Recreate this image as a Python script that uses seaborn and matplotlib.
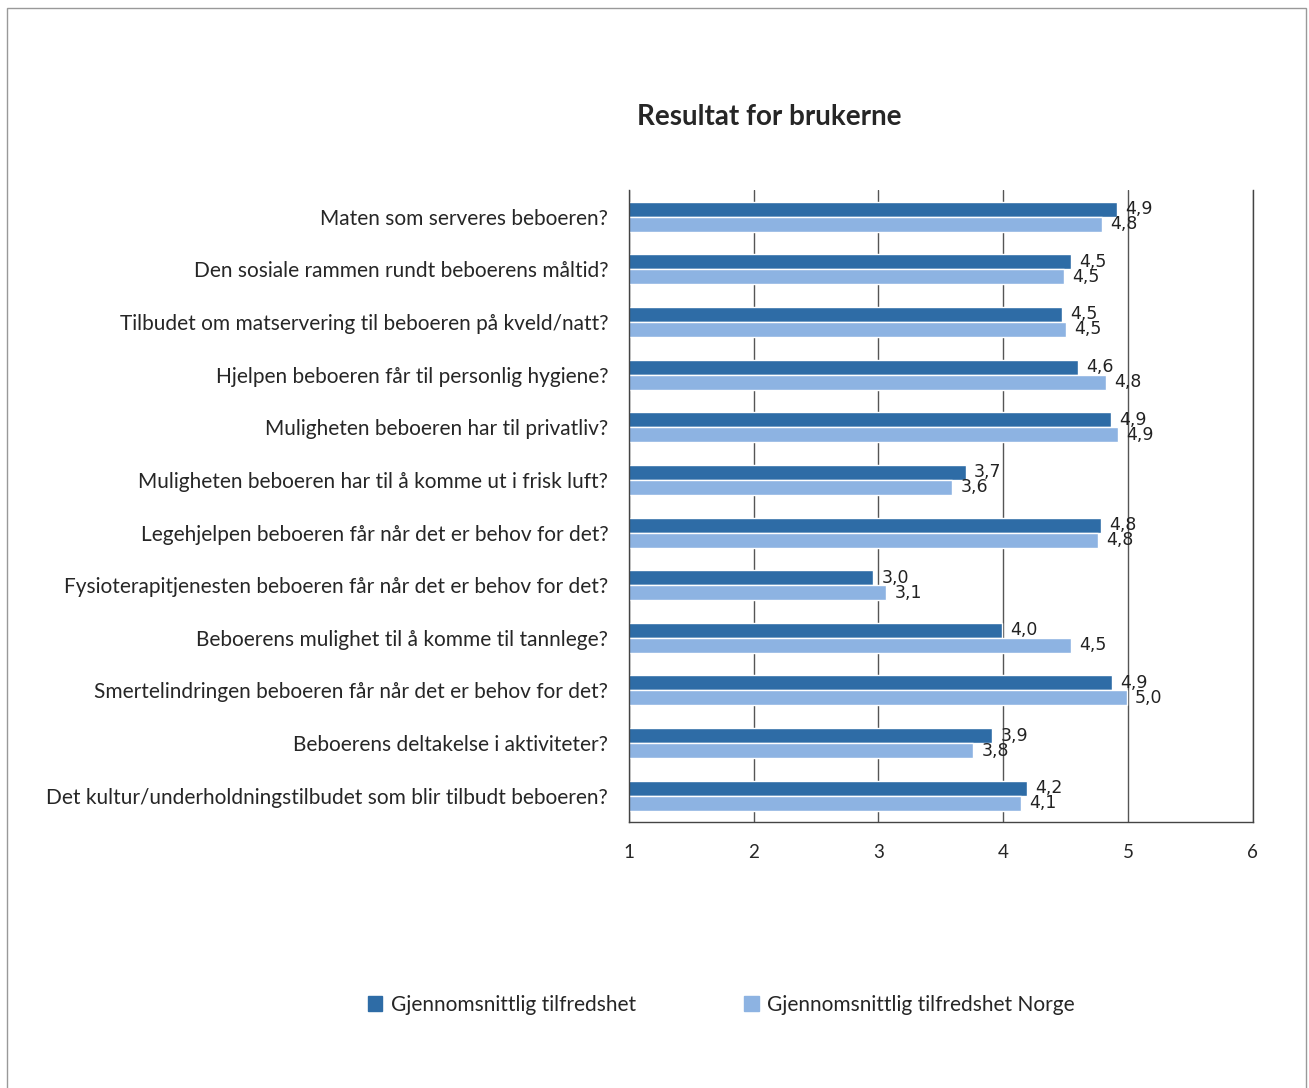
import pandas as pd
import numpy as np
import matplotlib.pyplot as plt
import seaborn as sns
from matplotlib.patches import Rectangle

# --- Data ---
questions = [
    "Maten som serveres beboeren?",
    "Den sosiale rammen rundt beboerens måltid?",
    "Tilbudet om matservering til beboeren på kveld/natt?",
    "Hjelpen beboeren får til personlig hygiene?",
    "Muligheten beboeren har til privatliv?",
    "Muligheten beboeren har til å komme ut i frisk luft?",
    "Legehjelpen beboeren får når det er behov for det?",
    "Fysioterapitjenesten beboeren får når det er behov for det?",
    "Beboerens mulighet til å komme til tannlege?",
    "Smertelindringen beboeren får når det er behov for det?",
    "Beboerens deltakelse i aktiviteter?",
    "Det kultur/underholdningstilbudet som blir tilbudt beboeren?",
]
series_names = ["Gjennomsnittlig tilfredshet", "Gjennomsnittlig tilfredshet Norge"]
local_values = [4.91, 4.54, 4.47, 4.60, 4.86, 3.70, 4.78, 2.96, 3.99, 4.87, 3.91, 4.19]
norway_values = [4.79, 4.49, 4.50, 4.82, 4.92, 3.59, 4.76, 3.06, 4.54, 4.99, 3.76, 4.14]
x_ticks = [1, 2, 3, 4, 5, 6]

colors = ["#2e6ca6", "#8db3e2"]

df = pd.DataFrame({
    "Spørsmål": questions * 2,
    "Verdi": local_values + norway_values,
    "Serie": [series_names[0]] * len(questions) + [series_names[1]] * len(questions),
})

sns.set_style("white")
plt.rcParams['font.family'] = ['Lato', 'DejaVu Sans']

fig = plt.figure(figsize=(13.09, 10.88), dpi=100)
ax = fig.add_axes([0.4805, 0.2445, 0.4765, 0.5805])

sns.barplot(data=df, x="Verdi", y="Spørsmål", hue="Serie", order=questions,
            hue_order=series_names, palette=colors, width=0.57, saturation=1,
            orient="h", ax=ax, legend=False)

ax.set_xlim(1, 6)
ax.set_xticks(x_ticks)
ax.set_xticklabels([str(t) for t in x_ticks], fontsize=13.5)
ax.set_xlabel("")
ax.set_ylabel("")
ax.tick_params(axis='x', length=0, pad=16)
ax.tick_params(axis='y', length=0, pad=15, labelsize=15)

ax.grid(axis='x', color='#555555', linewidth=1)
ax.set_axisbelow(True)
ax.spines['top'].set_visible(False)
for side in ['left', 'bottom', 'right']:
    ax.spines[side].set_color('#444444')
    ax.spines[side].set_linewidth(1)

# value labels
for cont in ax.containers:
    labels = [f"{b.get_width():.1f}".replace(".", ",") for b in cont]
    ax.bar_label(cont, labels=labels, padding=6, fontsize=12.5,
                 family='DejaVu Sans', color='#222222')

fig.text(0.5875, 0.8925, "Resultat for brukerne", ha='center', va='center',
         fontsize=20, fontweight='bold')

handles = [Rectangle((0, 0), 1, 1, color=c) for c in colors]
fig.legend(handles, series_names, loc='center', bbox_to_anchor=(0.551, 0.0763),
           ncol=2, frameon=False, fontsize=15, handlelength=0.7,
           handleheight=0.7, handletextpad=0.4, columnspacing=5.2)

fig.add_artist(Rectangle((0.005, -0.01), 0.9927, 1.0026, transform=fig.transFigure,
                         fill=False, edgecolor='#999999', linewidth=1))

plt.savefig("out.png", dpi=100)
plt.close()
